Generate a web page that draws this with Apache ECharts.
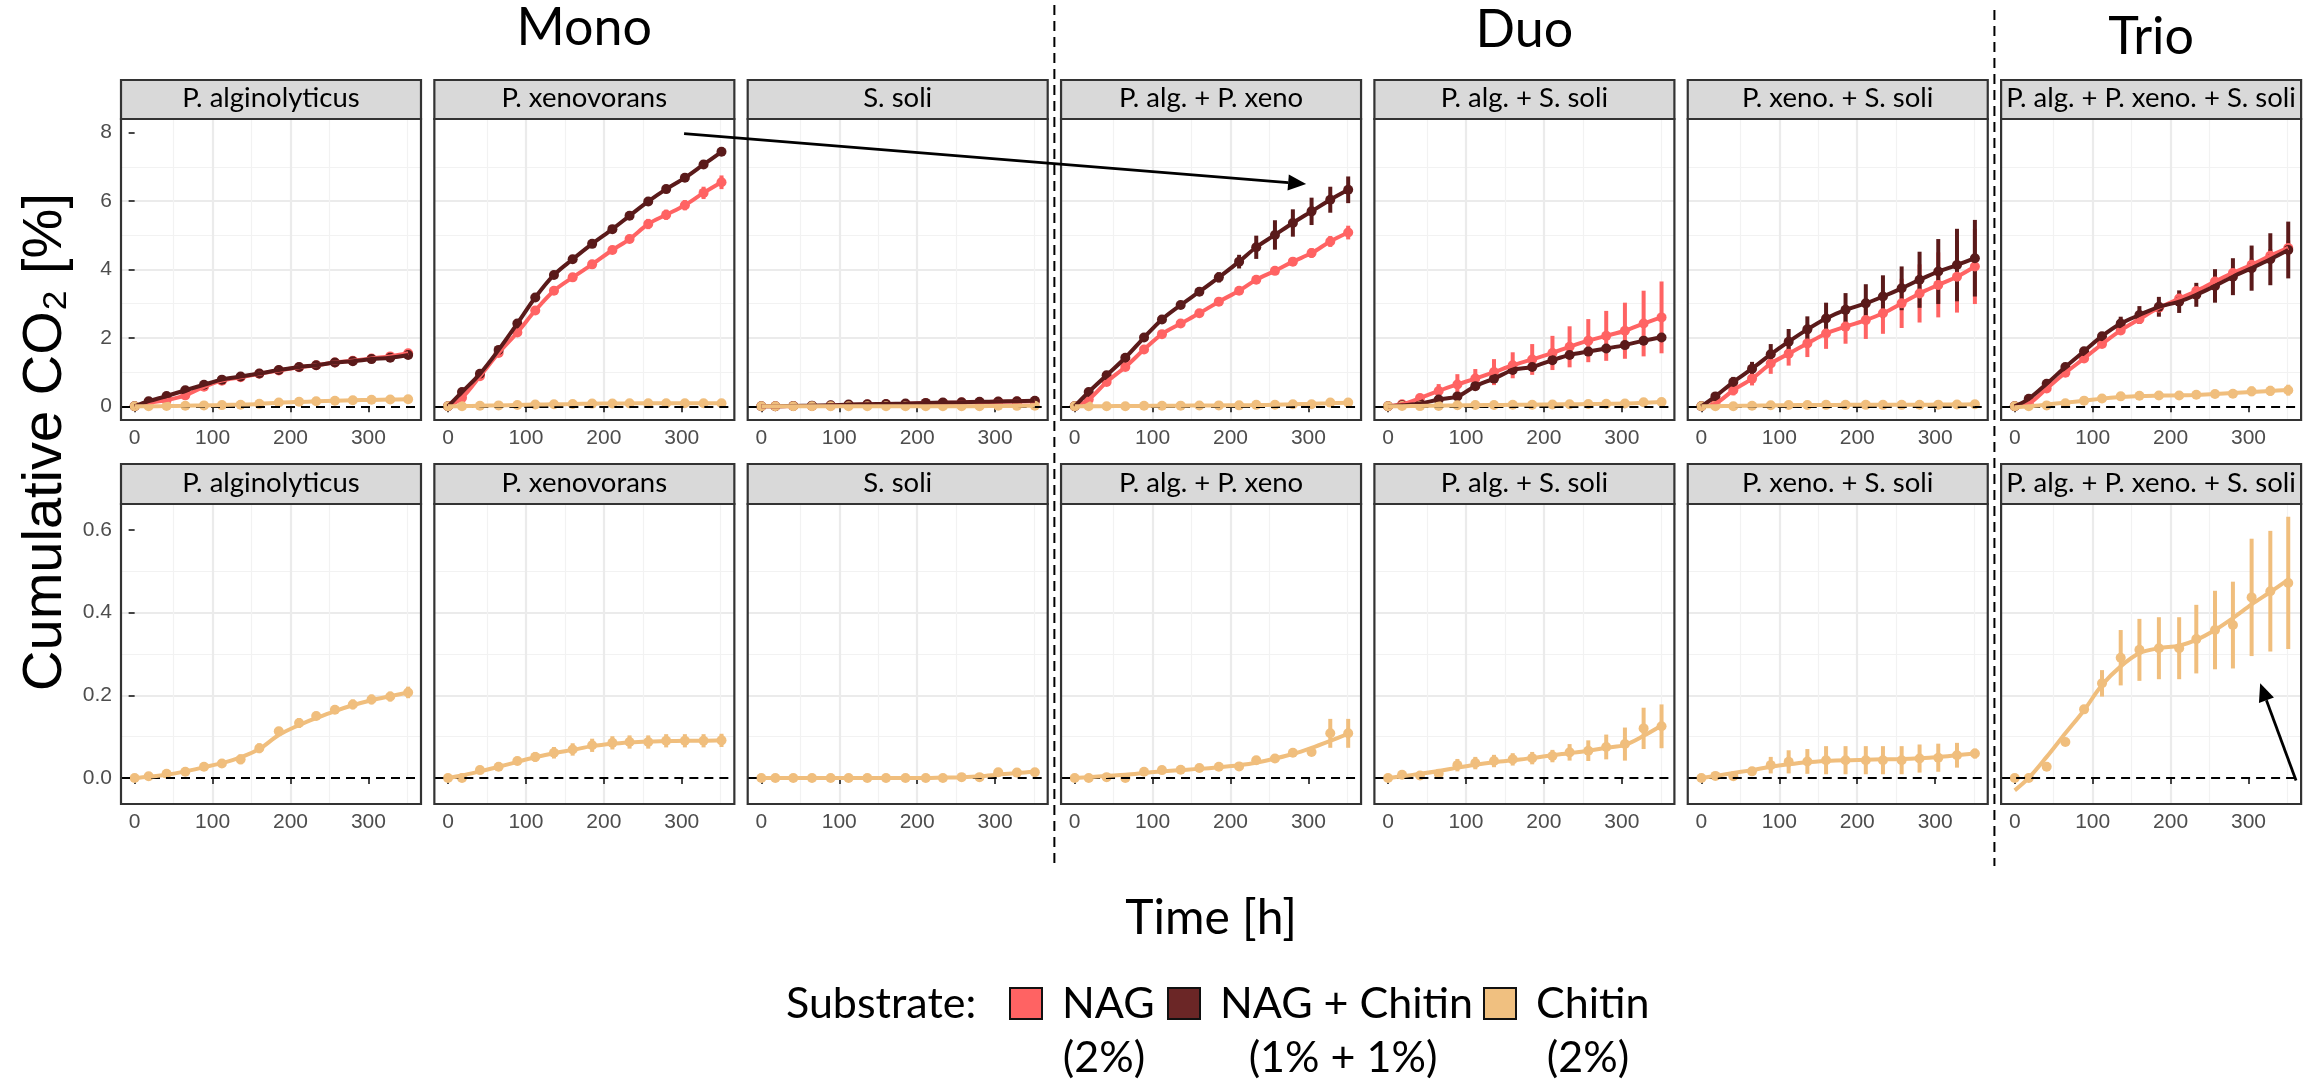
<!DOCTYPE html>
<html>
<head>
<meta charset="utf-8">
<title>Cumulative CO2</title>
<script src="https://cdn.jsdelivr.net/npm/echarts@6/dist/echarts.min.js"></script>
<style>
  html, body { margin: 0; padding: 0; background: #fff; }
  #chart { width: 2304px; height: 1084px; }
</style>
</head>
<body>
<div id="chart"></div>
<script>
// ---- data ----
var times = [0, 18, 41, 65, 89, 112, 136, 160, 185, 211, 233, 257, 280, 304, 328, 351];

var panelNames = ['P. alginolyticus', 'P. xenovorans', 'S. soli', 'P. alg. + P. xeno',
                  'P. alg. + S. soli', 'P. xeno. + S. soli', 'P. alg. + P. xeno. + S. soli'];
var groupTitles = ['Mono', 'Duo', 'Trio'];
var groupPanels = [[0, 2], [3, 5], [6, 6]];

var substrates = ['NAG', 'NAG + Chitin', 'Chitin'];
var substrateNotes = ['(2%)', '(1% + 1%)', '(2%)'];
var substrateColors = ['#FF6363', '#5A1A1A', '#F0BE7D'];
var legendFill = ['#FF6363', '#6B2626', '#F0C080'];

var xTicks = [0, 100, 200, 300];
var topYTicks = [0, 2, 4, 6, 8];
var bottomYTicks = [0, 0.2, 0.4, 0.6];

// NAG (2%), one row per panel
var nagMean = [
  [0, 0.10, 0.18, 0.32, 0.57, 0.75, 0.85, 0.95, 1.05, 1.14, 1.20, 1.28, 1.33, 1.40, 1.46, 1.55],
  [0, 0.25, 0.88, 1.56, 2.16, 2.80, 3.38, 3.77, 4.15, 4.57, 4.89, 5.33, 5.60, 5.88, 6.24, 6.55],
  [0, 0, 0.01, 0.01, 0.02, 0.04, 0.05, 0.06, 0.07, 0.09, 0.10, 0.11, 0.12, 0.13, 0.14, 0.15],
  [0, 0.20, 0.71, 1.15, 1.66, 2.11, 2.42, 2.72, 3.06, 3.38, 3.70, 3.96, 4.23, 4.48, 4.82, 5.08],
  [0, 0.06, 0.24, 0.45, 0.64, 0.81, 1.00, 1.20, 1.37, 1.56, 1.74, 1.92, 2.06, 2.21, 2.42, 2.60],
  [0, 0.08, 0.47, 0.81, 1.25, 1.54, 1.84, 2.13, 2.33, 2.52, 2.72, 3.01, 3.30, 3.55, 3.79, 4.09],
  [0, 0.08, 0.52, 0.98, 1.40, 1.82, 2.22, 2.55, 2.88, 3.15, 3.37, 3.65, 3.90, 4.14, 4.40, 4.63]
];
var nagSd = [
  [0, 0.02, 0.08, 0.08, 0.05, 0.05, 0.05, 0.05, 0.05, 0.05, 0.05, 0.05, 0.05, 0.06, 0.06, 0.07],
  [0, 0.05, 0.10, 0.10, 0.10, 0.10, 0.10, 0.10, 0.10, 0.12, 0.12, 0.15, 0.15, 0.15, 0.18, 0.20],
  [0, 0, 0, 0, 0.01, 0.01, 0.01, 0.01, 0.01, 0.01, 0.01, 0.01, 0.02, 0.02, 0.02, 0.02],
  [0, 0.03, 0.05, 0.08, 0.08, 0.08, 0.10, 0.10, 0.10, 0.12, 0.12, 0.12, 0.12, 0.14, 0.16, 0.20],
  [0, 0.05, 0.10, 0.20, 0.30, 0.28, 0.38, 0.38, 0.45, 0.50, 0.60, 0.63, 0.73, 0.82, 0.96, 1.05],
  [0, 0.05, 0.15, 0.20, 0.30, 0.35, 0.40, 0.45, 0.50, 0.55, 0.60, 0.72, 0.85, 0.95, 1.05, 1.10],
  [0, 0.03, 0.05, 0.05, 0.08, 0.08, 0.10, 0.12, 0.12, 0.15, 0.15, 0.15, 0.15, 0.18, 0.20, 0.22]
];

// NAG + Chitin (1% + 1%)
var mixMean = [
  [0, 0.15, 0.30, 0.47, 0.63, 0.78, 0.87, 0.96, 1.06, 1.15, 1.20, 1.28, 1.32, 1.38, 1.42, 1.50],
  [0, 0.42, 0.95, 1.65, 2.42, 3.18, 3.84, 4.30, 4.75, 5.18, 5.57, 5.99, 6.35, 6.68, 7.07, 7.44],
  [0, 0, 0.01, 0.02, 0.03, 0.05, 0.06, 0.07, 0.08, 0.10, 0.11, 0.12, 0.13, 0.14, 0.15, 0.16],
  [0, 0.42, 0.91, 1.42, 2.01, 2.54, 2.96, 3.35, 3.77, 4.23, 4.65, 5.01, 5.36, 5.70, 6.04, 6.33],
  [0, 0.03, 0.08, 0.20, 0.29, 0.59, 0.81, 1.06, 1.15, 1.35, 1.50, 1.60, 1.69, 1.79, 1.92, 2.01],
  [0, 0.29, 0.71, 1.10, 1.52, 1.89, 2.25, 2.57, 2.82, 3.01, 3.21, 3.45, 3.70, 3.94, 4.13, 4.33],
  [0, 0.22, 0.66, 1.15, 1.61, 2.05, 2.42, 2.67, 2.91, 3.06, 3.26, 3.52, 3.79, 4.04, 4.30, 4.57]
];
var mixSd = [
  [0, 0.03, 0.05, 0.05, 0.05, 0.05, 0.05, 0.05, 0.05, 0.05, 0.05, 0.06, 0.06, 0.06, 0.07, 0.08],
  [0, 0.03, 0.05, 0.05, 0.05, 0.08, 0.10, 0.06, 0.06, 0.06, 0.06, 0.06, 0.06, 0.06, 0.06, 0.07],
  [0, 0, 0, 0, 0.01, 0.01, 0.01, 0.01, 0.01, 0.01, 0.01, 0.01, 0.01, 0.01, 0.01, 0.02],
  [0, 0.05, 0.05, 0.05, 0.05, 0.05, 0.08, 0.10, 0.15, 0.20, 0.34, 0.43, 0.40, 0.40, 0.38, 0.39],
  [0, 0.02, 0.05, 0.05, 0.05, 0.05, 0.06, 0.06, 0.07, 0.08, 0.08, 0.08, 0.08, 0.08, 0.08, 0.08],
  [0, 0.10, 0.15, 0.20, 0.30, 0.37, 0.38, 0.46, 0.49, 0.56, 0.62, 0.64, 0.82, 0.95, 1.06, 1.12],
  [0, 0.03, 0.05, 0.05, 0.06, 0.10, 0.20, 0.26, 0.29, 0.33, 0.35, 0.49, 0.54, 0.66, 0.76, 0.83]
];

// Chitin (2%)
var chitinMean = [
  [0, 0.004, 0.010, 0.015, 0.027, 0.035, 0.045, 0.072, 0.113, 0.133, 0.150, 0.165, 0.178, 0.190, 0.197, 0.207],
  [0, 0, 0.019, 0.027, 0.041, 0.051, 0.061, 0.069, 0.079, 0.085, 0.087, 0.087, 0.090, 0.090, 0.090, 0.091],
  [0, 0, 0, 0, 0, 0, 0, 0, 0, 0, 0, 0.002, 0.002, 0.014, 0.013, 0.014],
  [0, 0, 0.002, 0, 0.015, 0.019, 0.020, 0.024, 0.027, 0.028, 0.043, 0.047, 0.061, 0.063, 0.108, 0.108],
  [0, 0.008, 0.006, 0.010, 0.031, 0.036, 0.041, 0.045, 0.048, 0.053, 0.062, 0.066, 0.075, 0.082, 0.120, 0.125],
  [0, 0.005, 0.004, 0.016, 0.031, 0.039, 0.040, 0.043, 0.043, 0.043, 0.043, 0.043, 0.047, 0.049, 0.055, 0.059],
  [0, 0, 0.027, 0.087, 0.166, 0.229, 0.291, 0.310, 0.314, 0.314, 0.336, 0.358, 0.370, 0.437, 0.452, 0.472]
];
var chitinSd = [
  [0, 0.003, 0.006, 0.006, 0.008, 0.010, 0.012, 0.012, 0.010, 0.012, 0.010, 0.010, 0.012, 0.012, 0.012, 0.014],
  [0, 0.002, 0.006, 0.010, 0.010, 0.012, 0.014, 0.015, 0.016, 0.016, 0.016, 0.016, 0.016, 0.016, 0.016, 0.016],
  [0, 0, 0, 0, 0, 0, 0, 0, 0, 0, 0, 0.002, 0.002, 0.005, 0.005, 0.005],
  [0, 0, 0.002, 0.002, 0.004, 0.004, 0.004, 0.004, 0.004, 0.004, 0.006, 0.006, 0.008, 0.010, 0.035, 0.035],
  [0, 0.003, 0.004, 0.006, 0.015, 0.015, 0.015, 0.015, 0.015, 0.015, 0.020, 0.025, 0.030, 0.040, 0.050, 0.053],
  [0, 0.003, 0.004, 0.008, 0.020, 0.028, 0.030, 0.034, 0.034, 0.034, 0.034, 0.034, 0.034, 0.034, 0.030, 0.012],
  [0, 0, 0.005, 0.008, 0.010, 0.032, 0.067, 0.075, 0.075, 0.075, 0.083, 0.095, 0.105, 0.142, 0.146, 0.160]
];
// smoothed chitin curves
var chitinFit = [
  [0, 0.003, 0.008, 0.016, 0.026, 0.036, 0.050, 0.070, 0.104, 0.128, 0.145, 0.162, 0.176, 0.188, 0.198, 0.207],
  [0, 0.006, 0.016, 0.027, 0.039, 0.050, 0.060, 0.068, 0.077, 0.083, 0.086, 0.088, 0.089, 0.090, 0.090, 0.091],
  [0, 0, 0, 0, 0, 0, 0, 0, 0, 0, 0.001, 0.002, 0.004, 0.008, 0.012, 0.015],
  [0, 0.002, 0.005, 0.008, 0.012, 0.016, 0.019, 0.022, 0.026, 0.031, 0.037, 0.047, 0.058, 0.073, 0.090, 0.107],
  [0, 0.004, 0.010, 0.017, 0.025, 0.032, 0.038, 0.043, 0.048, 0.055, 0.060, 0.066, 0.073, 0.080, 0.102, 0.127],
  [0, 0.005, 0.012, 0.019, 0.027, 0.033, 0.038, 0.041, 0.043, 0.044, 0.045, 0.046, 0.048, 0.051, 0.055, 0.059],
  [-0.030, 0.000, 0.051, 0.108, 0.164, 0.225, 0.270, 0.302, 0.314, 0.320, 0.334, 0.358, 0.387, 0.420, 0.450, 0.480]
];

// annotation arrows: [gridIndex, time, value]
var arrows = [
  { from: [1, 303, 7.97], to: [3, 297, 6.5] },
  { from: [13, 361, -0.006], to: [13, 315, 0.229] }
];

// ---- layout ----
var panelLeft0 = 121, panelW = 300, panelStep = 313.35;
var stripTop = [80, 464], stripBottom = [119, 504], plotBottom = [420, 804];
var xRange = [-17.5, 367.5];
var yRange = [[-0.4, 8.4], [-0.063, 0.663]];
var textFont = 'Lato, "Open Sans", sans-serif';
var tickFont = '"Liberation Sans", Arial, sans-serif';

function panelLeft(p) { return panelLeft0 + p * panelStep; }

var chart = echarts.init(document.getElementById('chart'));

var grids = [], xAxes = [], yAxes = [], series = [];

function pairs(arr) {
  return times.map(function (t, i) { return [t, arr[i]]; });
}
function ranges(mean, sd) {
  return times.map(function (t, i) { return [t, mean[i] - sd[i], mean[i] + sd[i]]; });
}
function renderBar(params, api) {
  var lo = api.coord([api.value(0), api.value(1)]);
  var hi = api.coord([api.value(0), api.value(2)]);
  return {
    type: 'line',
    shape: { x1: lo[0], y1: lo[1], x2: hi[0], y2: hi[1] },
    style: { stroke: api.visual('color'), lineWidth: 4 }
  };
}
function inList(list, v) {
  for (var i = 0; i < list.length; i++) {
    if (Math.abs(list[i] - v) < 1e-6) return true;
  }
  return false;
}

function addSubstrate(g, k, mean, sd, fit) {
  var col = substrateColors[k];
  series.push({
    type: 'custom', xAxisIndex: g, yAxisIndex: g, z: 3, silent: true,
    renderItem: renderBar, itemStyle: { color: col },
    data: ranges(mean, sd)
  });
  series.push({
    type: 'scatter', xAxisIndex: g, yAxisIndex: g, z: 4, silent: true,
    symbolSize: 10, itemStyle: { color: col, opacity: 1 },
    data: pairs(mean)
  });
  series.push({
    type: 'line', xAxisIndex: g, yAxisIndex: g, z: 5, silent: true,
    smooth: 0.35, showSymbol: false,
    lineStyle: { color: col, width: 4 },
    data: pairs(fit)
  });
}

for (var row = 0; row < 2; row++) {
  var yt = row === 0 ? topYTicks : bottomYTicks;
  for (var p = 0; p < 7; p++) {
    var g = row * 7 + p;
    grids.push({
      left: panelLeft(p), top: stripBottom[row], width: panelW,
      height: plotBottom[row] - stripBottom[row],
      show: false, outerBoundsMode: 'none'
    });
    xAxes.push({
      type: 'value', gridIndex: g, min: xRange[0], max: xRange[1],
      minInterval: 100, maxInterval: 100, splitNumber: 4,
      axisLine: { show: false },
      axisTick: { show: true, customValues: xTicks, length: 6, lineStyle: { color: '#333', width: 1.8 } },
      axisLabel: {
        show: true, customValues: xTicks, margin: 8, color: '#4D4D4D', fontSize: 21, fontFamily: tickFont,
        formatter: function (v) { return inList(xTicks, v) ? String(Math.round(v)) : ''; }
      },
      splitLine: { show: true, showMinLine: false, showMaxLine: false, lineStyle: { color: '#EBEBEB', width: 2.2 } },
      minorTick: { show: false, splitNumber: 2 },
      minorSplitLine: { show: true, lineStyle: { color: '#F2F2F2', width: 1.2 } }
    });
    (function (ticks, r, pp) {
      yAxes.push({
        type: 'value', gridIndex: g, min: yRange[r][0], max: yRange[r][1],
        minInterval: ticks[1] - ticks[0], maxInterval: ticks[1] - ticks[0], splitNumber: 4,
        axisLine: { show: false },
        axisTick: { show: pp === 0, customValues: ticks, length: 6, lineStyle: { color: '#333', width: 1.8 } },
        axisLabel: {
          show: pp === 0, customValues: ticks, margin: 9, color: '#4D4D4D', fontSize: 21, fontFamily: tickFont,
          formatter: function (v) {
            if (!inList(ticks, v)) return '';
            return r === 0 ? String(Math.round(v)) : Math.abs(v).toFixed(1);
          }
        },
        splitLine: { show: true, showMinLine: false, showMaxLine: false, lineStyle: { color: '#EBEBEB', width: 2.2 } },
        minorTick: { show: false, splitNumber: 2 },
        minorSplitLine: { show: true, lineStyle: { color: '#F2F2F2', width: 1.2 } }
      });
    })(yt, row, p);

    if (row === 0) {
      addSubstrate(g, 0, nagMean[p], nagSd[p], nagMean[p]);
      addSubstrate(g, 1, mixMean[p], mixSd[p], mixMean[p]);
    }
    addSubstrate(g, 2, chitinMean[p], chitinSd[p], chitinFit[p]);

    // dashed zero reference
    series.push({
      type: 'line', xAxisIndex: g, yAxisIndex: g, z: 10, silent: true, data: [],
      markLine: {
        silent: true, symbol: ['none', 'none'], label: { show: false },
        lineStyle: { color: '#000', type: [9, 6], width: 2 },
        data: [{ yAxis: 0 }]
      }
    });
  }
}

chart.setOption({
  animation: false,
  backgroundColor: '#ffffff',
  grid: grids,
  xAxis: xAxes,
  yAxis: yAxes,
  series: series
});

// ---- decorations ----
var graphics = [];

function txt(text, x, y, font, opts) {
  opts = opts || {};
  return {
    type: 'text', x: x, y: y, rotation: opts.rotation || 0, z: 200,
    style: {
      text: text, font: font, fill: opts.fill || '#000',
      textAlign: opts.align || 'center', textVerticalAlign: 'middle',
      align: opts.align || 'center', verticalAlign: 'middle'
    }
  };
}

for (var r = 0; r < 2; r++) {
  for (var q = 0; q < 7; q++) {
    var lx = panelLeft(q);
    // panel border
    graphics.push({
      type: 'rect', z: 150,
      shape: { x: lx, y: stripBottom[r], width: panelW, height: plotBottom[r] - stripBottom[r] },
      style: { fill: 'none', stroke: '#333333', lineWidth: 2.2 }
    });
    // strip
    graphics.push({
      type: 'rect', z: 150,
      shape: { x: lx, y: stripTop[r], width: panelW, height: stripBottom[r] - stripTop[r] },
      style: { fill: '#D9D9D9', stroke: '#333333', lineWidth: 2.2 }
    });
    graphics.push(txt(panelNames[q], lx + panelW / 2, (stripTop[r] + stripBottom[r]) / 2 - 1, '27.5px ' + textFont));
  }
}

// group titles
var groupTitleY = [28, 30, 37];
groupTitles.forEach(function (t, i) {
  var a = panelLeft(groupPanels[i][0]);
  var b = panelLeft(groupPanels[i][1]) + panelW;
  graphics.push(txt(t, (a + b) / 2, groupTitleY[i], '52px ' + textFont));
});

// dashed separators between groups
[2, 5].forEach(function (p) {
  var sx = (panelLeft(p) + panelW + panelLeft(p + 1)) / 2;
  graphics.push({
    type: 'line', z: 160,
    shape: { x1: sx, y1: p === 2 ? 5 : 10, x2: sx, y2: 866 },
    style: { stroke: '#000', lineWidth: 2, lineDash: [10, 6] }
  });
});

// axis titles
graphics.push(txt('Cumulative CO\u2082 [%]', 46, (stripTop[0] + plotBottom[1]) / 2, '56px "Liberation Sans", Arial, sans-serif', { rotation: Math.PI / 2 }));
graphics.push(txt('Time [h]', (panelLeft(0) + panelLeft(6) + panelW) / 2, 919, '48px ' + textFont));

// legend
var legendY = 1004, noteY = 1058;
var legendKeyX = [1010, 1168, 1484];
var legendNoteX = [1104, 1343, 1588];
graphics.push(txt('Substrate:', 786, legendY, '43px ' + textFont, { align: 'left' }));
substrates.forEach(function (s, i) {
  graphics.push({
    type: 'rect', z: 200,
    shape: { x: legendKeyX[i], y: legendY - 16, width: 32, height: 31 },
    style: { fill: legendFill[i], stroke: '#111', lineWidth: 2 }
  });
  graphics.push(txt(s, legendKeyX[i] + 52, legendY, '43px ' + textFont, { align: 'left' }));
  graphics.push(txt(substrateNotes[i], legendNoteX[i], noteY, '43px ' + textFont));
});

// arrows
arrows.forEach(function (a) {
  var p0 = chart.convertToPixel({ gridIndex: a.from[0] }, [a.from[1], a.from[2]]);
  var p1 = chart.convertToPixel({ gridIndex: a.to[0] }, [a.to[1], a.to[2]]);
  var ang = Math.atan2(p1[1] - p0[1], p1[0] - p0[0]);
  var len = 18, half = 8;
  var bx = p1[0] - len * Math.cos(ang), by = p1[1] - len * Math.sin(ang);
  var nx = -Math.sin(ang) * half, ny = Math.cos(ang) * half;
  graphics.push({
    type: 'line', z: 210,
    shape: { x1: p0[0], y1: p0[1], x2: bx, y2: by },
    style: { stroke: '#000', lineWidth: 2.8 }
  });
  graphics.push({
    type: 'polygon', z: 210,
    shape: { points: [[p1[0], p1[1]], [bx + nx, by + ny], [bx - nx, by - ny]] },
    style: { fill: '#000' }
  });
});

chart.setOption({ graphic: graphics });
</script>
</body>
</html>
